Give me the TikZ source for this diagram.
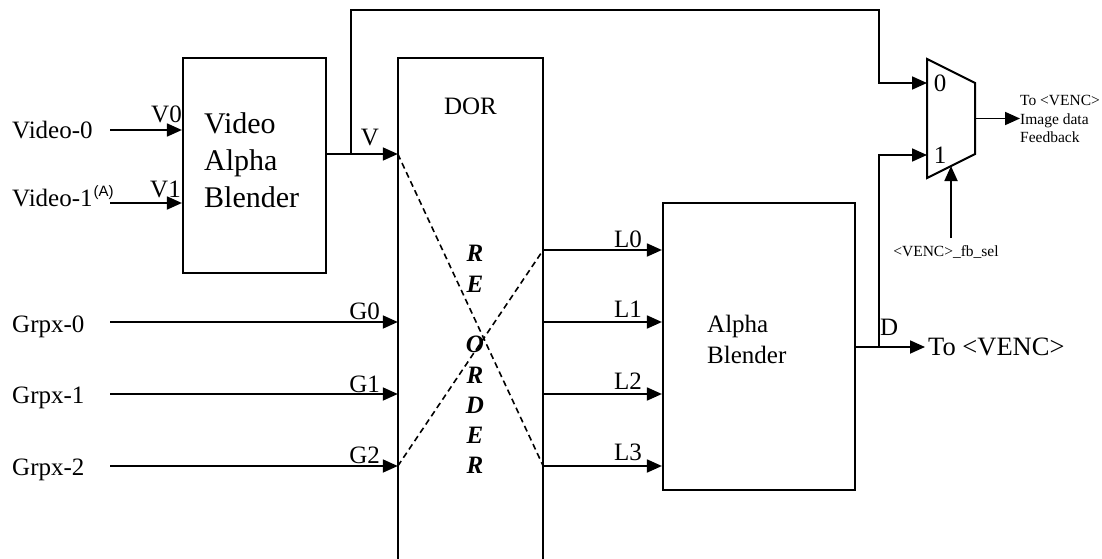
\documentclass[tikz,border=0pt]{standalone}
\usepackage{fontspec}
\setmainfont{Liberation Serif}
\setsansfont{Liberation Sans}
\usetikzlibrary{arrows.meta}
\begin{document}
\begin{tikzpicture}[x=1pt,y=-1pt,
  blk/.style={draw,line width=2.2pt,inner sep=0pt},
  conn/.style={line width=1.8pt,-{Triangle[length=15pt,width=13pt]}},
  wire/.style={line width=1.8pt},
  xline/.style={line width=1.6pt,dash pattern=on 6pt off 4pt},
  txt/.style={inner sep=0pt,font=\fontsize{25}{31}\selectfont},
  big/.style={inner sep=0pt,font=\fontsize{30}{37}\selectfont,align=left},
  small/.style={inner sep=0pt,font=\fontsize{15.5}{18.5}\selectfont}]
\useasboundingbox (0,0) rectangle (1102,559);

% blocks
\node[blk,minimum width=143pt,minimum height=215pt] (vab) at (254.5,165.5) {};
\node[big,anchor=west] (vabt) at (204,160) {Video\\Alpha\\Blender};

\node[inner sep=0pt,minimum width=145pt,minimum height=501pt] (dor) at (470.5,308.5) {};
\draw[line width=2.2pt] (dor.south west) -- (dor.north west) -- (dor.north east) -- (dor.south east);
\node[txt,anchor=base] (dort) at (470.5,115) {DOR};
\node[inner sep=0pt,font=\fontsize{25}{30.3}\selectfont\bfseries\itshape,align=center] (reo) at (475,359.7) {R\\E\\\mbox{}\\O\\R\\D\\E\\R};

\node[blk,minimum width=192pt,minimum height=287pt] (ab) at (759,346.5) {};
\node[txt,align=left,anchor=west] (abt) at (707,339) {Alpha\\Blender};

% mux
\draw[line width=2pt] (927,59) -- (975,83) -- (975,154) -- (927,178) -- cycle;
\coordinate (m0) at (927,83);
\coordinate (m1) at (927,155);
\coordinate (mo) at (975,118.5);
\coordinate (ms) at (951,166);
\node[txt,anchor=base] (mz) at (940,92) {0};
\node[txt,anchor=base] (mn) at (940,163) {1};

% inputs
\node[txt,anchor=base west] (vi0) at (12,139) {Video-0};
\node[txt,anchor=base west] (vi1) at (12,206) {Video-1\kern1pt\raisebox{9.5pt}{\sffamily\fontsize{15}{15}\selectfont(A)}};
\node[txt,anchor=base west] (gi0) at (12,332) {Grpx-0};
\node[txt,anchor=base west] (gi1) at (12,403) {Grpx-1};
\node[txt,anchor=base west] (gi2) at (12,475) {Grpx-2};

\coordinate (v0s) at (110,130);
\coordinate (v1s) at (110,203);
\coordinate (g0) at (110,322);
\coordinate (g1) at (110,394);
\coordinate (g2) at (110,466);
\draw[conn] (v0s) -- (vab.west |- v0s);
\draw[conn] (v1s) -- (vab.west |- v1s);
\draw[conn] (g0) -- (dor.west |- g0);
\draw[conn] (g1) -- (dor.west |- g1);
\draw[conn] (g2) -- (dor.west |- g2);
\node[txt,anchor=base east] (lv0) at (182,123) {V0};
\node[txt,anchor=base east] (lv1) at (181,197) {V1};
\node[txt,anchor=base east] (lg0) at (380,319) {G0};
\node[txt,anchor=base east] (lg1) at (380,392) {G1};
\node[txt,anchor=base east] (lg2) at (380,463) {G2};

% V output and feedback
\coordinate (vy) at (351,154);
\draw[conn] (vab.east |- vy) -- (dor.west |- vy);
\node[txt,anchor=base] (lv) at (370,145) {V};
\draw[conn] (vy) |- (879,10) |- (m0);

% L lines
\coordinate (l0) at (600,250);
\coordinate (l1) at (600,322);
\coordinate (l2) at (600,394);
\coordinate (l3) at (600,466);
\draw[conn] (dor.east |- l0) -- (ab.west |- l0);
\draw[conn] (dor.east |- l1) -- (ab.west |- l1);
\draw[conn] (dor.east |- l2) -- (ab.west |- l2);
\draw[conn] (dor.east |- l3) -- (ab.west |- l3);
\node[txt,anchor=base east] (ll0) at (642,247) {L0};
\node[txt,anchor=base east] (ll1) at (642,317) {L1};
\node[txt,anchor=base east] (ll2) at (642,389) {L2};
\node[txt,anchor=base east] (ll3) at (642,460) {L3};

% reorder cross
\draw[xline] (dor.west |- vy) -- (dor.east |- l3);
\draw[xline] (dor.west |- g2) -- (dor.east |- l0);

% D output
\coordinate (dj) at (879,347);
\node[txt,font=\fontsize{26.5}{31}\selectfont,anchor=base west] (tv) at (928,355) {To <VENC>};
\draw[conn] (ab.east |- dj) -- ([xshift=-3pt]tv.west |- dj);
\node[txt,anchor=base west] (ld) at (880,335) {D};
\draw[conn] (dj) |- (m1);

% mux output and select
\node[small,align=left,anchor=west] (fbt) at (1020,119.3) {To <VENC>\\Image data\\Feedback};
\draw[conn] (mo) -- (fbt.west |- mo);
\node[small,anchor=base] (sel) at (946,256) {<VENC>\_fb\_sel};
\coordinate (sels) at (951,238);
\draw[conn] (sels) -- (ms);
\end{tikzpicture}
\end{document}
